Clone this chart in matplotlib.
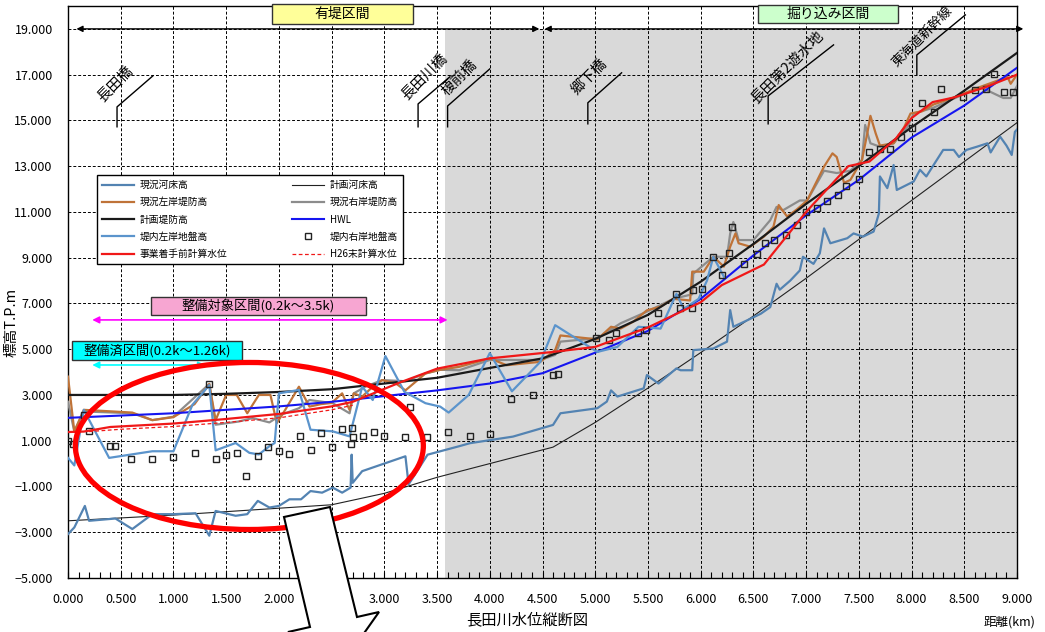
import matplotlib
matplotlib.use("Agg")
import matplotlib.pyplot as plt
from matplotlib.patches import Rectangle, Ellipse, Polygon
from matplotlib.ticker import FuncFormatter, MultipleLocator

plt.rcParams['font.family'] = ['Noto Sans CJK JP', 'DejaVu Sans']

# ---- data (km, T.P.m) ----
riverbed_x = [0, 0.06, 0.16, 0.2, 0.45, 0.61, 0.8, 1.0, 1.21, 1.34, 1.4, 1.59, 1.7, 1.8, 1.91, 2.0,
              2.1, 2.21, 2.3, 2.41, 2.51, 2.6, 2.68, 2.69, 2.7, 2.79, 3.2, 3.23, 3.41, 3.71, 3.81,
              4.22, 4.6, 4.67, 5.02, 5.11, 5.15, 5.21, 5.46, 5.49, 5.6, 5.77, 5.81, 5.92, 5.93, 6.12,
              6.25, 6.28, 6.31, 6.38, 6.44, 6.57, 6.66, 6.72, 6.75, 6.85, 6.94, 6.97, 7.07, 7.13,
              7.17, 7.23, 7.39, 7.45, 7.54, 7.64, 7.69, 7.7, 7.77, 7.83, 7.86, 8.02, 8.08, 8.14,
              8.3, 8.4, 8.45, 8.52, 8.62, 8.72, 8.75, 8.84, 8.9, 8.95, 8.98, 9.0]
riverbed_y = [-3.08, -2.79, -1.85, -2.5, -2.4, -2.86, -2.21, -2.21, -2.17, -3.15, -2.07, -2.28, -2.21,
              -1.63, -1.92, -1.85, -1.56, -1.56, -1.2, -1.27, -1.05, -1.27, -1.05, 0.39, -0.84, -0.33,
              0.32, -0.91, 0.39, 0.76, 0.89, 1.18, 1.69, 2.2, 2.42, 2.71, 3.2, 2.93, 3.29, 3.87, 3.5,
              4.16, 4.08, 4.08, 4.96, 5.03, 5.33, 6.71, 5.98, 6.13, 6.26, 6.55, 6.84, 7.86, 7.6, 8.0,
              8.44, 9.04, 8.73, 9.19, 10.28, 9.63, 9.85, 10.06, 9.92, 10.14, 10.93, 12.55, 12.04,
              13.05, 11.96, 12.33, 12.84, 12.55, 13.71, 13.71, 13.4, 13.71, 13.85, 14.0, 13.6, 14.29,
              13.9, 13.49, 14.5, 14.6]

plan_bed_x = [0, 1.0, 2.0, 2.5, 3.0, 3.5, 4.0, 4.6, 5.0, 5.5, 6.0, 6.5, 7.0, 7.5, 8.0, 8.5, 9.0]
plan_bed_y = [-2.5, -2.25, -1.95, -1.8, -1.3, -0.6, 0.0, 0.72, 1.8, 3.3, 4.85, 6.45, 8.1, 9.8,
              11.5, 13.2, 14.9]

left_levee_x = [0, 0.06, 0.15, 0.61, 0.8, 1.0, 1.2, 1.34, 1.4, 1.5, 1.6, 1.7, 1.81, 1.92, 1.98, 2.06,
                2.19, 2.29, 2.4, 2.5, 2.6, 2.67, 2.71, 2.79, 2.89, 2.98, 3.11, 3.2, 3.39, 3.53, 3.71,
                4.0, 4.16, 4.48, 4.62, 4.67, 5.02, 5.15, 5.24, 5.36, 5.49, 5.62, 5.74, 5.9, 5.92,
                6.03, 6.12, 6.22, 6.28, 6.33, 6.36, 6.47, 6.6, 6.69, 6.74, 6.77, 6.82, 6.91, 7.01,
                7.17, 7.25, 7.29, 7.36, 7.42, 7.53, 7.58, 7.61, 7.66, 7.7, 7.83, 7.93, 7.99, 8.1,
                8.21, 8.4, 8.65, 8.91, 8.94, 9.0]
left_levee_y = [3.8, 1.41, 2.35, 2.23, 1.9, 2.03, 2.6, 3.48, 1.9, 3.0, 3.0, 2.2, 3.0, 3.0, 1.77, 2.35,
                3.36, 2.49, 2.6, 2.65, 3.07, 2.35, 3.07, 2.93, 3.36, 3.65, 3.5, 3.2, 3.94, 4.1, 4.23,
                4.6, 4.3, 4.45, 4.96, 5.6, 5.43, 5.98, 5.9, 6.2, 6.7, 6.86, 7.2, 7.13, 8.39, 8.39,
                9.04, 8.61, 9.48, 10.06, 9.63, 9.48, 9.92, 10.35, 11.3, 11.1, 10.8, 11.1, 11.5, 12.98,
                13.56, 13.4, 12.27, 12.4, 13.27, 14.43, 15.2, 14.43, 13.9, 14.0, 14.7, 15.3, 15.4,
                15.7, 16.0, 16.46, 16.9, 16.6, 17.0]

right_levee_x = [0, 0.06, 0.15, 0.61, 0.8, 1.0, 1.34, 1.4, 1.62, 1.75, 1.91, 2.02, 2.19, 2.29, 2.51,
                 2.67, 2.71, 2.82, 2.98, 3.2, 3.39, 3.53, 3.71, 4.0, 4.48, 4.62, 4.67, 5.02, 5.24,
                 5.49, 5.74, 5.92, 5.93, 6.12, 6.25, 6.28, 6.31, 6.36, 6.5, 6.66, 6.72, 6.78, 6.94,
                 7.01, 7.17, 7.29, 7.42, 7.53, 7.56, 7.61, 7.7, 7.83, 7.96, 8.02, 8.21, 8.4, 8.65,
                 8.87, 8.94, 9.0]
right_levee_y = [2.7, 1.4, 2.28, 2.2, 1.9, 2.05, 3.48, 1.7, 1.84, 1.99, 1.8, 2.13, 2.42, 2.78, 2.64,
                 2.2, 3.07, 3.36, 3.65, 3.6, 3.94, 4.1, 4.08, 4.53, 4.53, 4.75, 5.33, 5.48, 6.13,
                 6.64, 7.2, 7.4, 8.3, 9.04, 9.04, 10.06, 10.56, 9.77, 9.77, 10.64, 11.22, 11.07, 11.5,
                 11.5, 12.8, 12.7, 12.8, 13.27, 14.8, 14.0, 13.85, 14.0, 14.7, 15.3, 15.56, 15.95,
                 16.46, 15.98, 15.98, 16.5]

plan_levee_x = [0, 0.5, 1.0, 1.5, 2.0, 2.5, 3.0, 3.5, 4.0, 4.5, 5.0, 5.5, 6.0, 6.5, 7.0, 7.5, 8.0,
                8.5, 9.0]
plan_levee_y = [3.0, 3.0, 3.0, 3.05, 3.13, 3.25, 3.5, 3.75, 4.18, 4.6, 5.45, 6.5, 7.95, 9.6, 11.35,
                13.0, 14.7, 16.3, 17.95]

hwl_x = [0, 0.5, 1.0, 1.5, 2.0, 2.5, 3.0, 3.5, 4.0, 4.5, 5.0, 5.5, 6.0, 6.5, 7.0, 7.5, 8.0, 8.5, 9.0]
hwl_y = [2.0, 2.1, 2.2, 2.35, 2.5, 2.7, 2.95, 3.2, 3.5, 3.95, 4.85, 5.8, 7.2, 9.1, 10.85, 12.4,
         14.25, 15.65, 17.3]

left_ground_x = [0, 0.06, 0.15, 0.39, 0.8, 1.0, 1.18, 1.34, 1.4, 1.59, 1.72, 1.81, 1.91, 1.96, 2.0,
                 2.19, 2.3, 2.51, 2.67, 2.79, 2.89, 3.01, 3.19, 3.39, 3.53, 3.61, 3.8, 4.0, 4.21,
                 4.48, 4.62, 5.02, 5.21, 5.41, 5.62, 5.77, 5.84, 5.98, 6.06, 6.12, 6.22]
left_ground_y = [0.25, -0.08, 2.35, 0.25, 0.54, 0.54, 2.57, 3.43, 0.58, 0.9, 0.47, 0.4, 0.76, 0.9,
                 3.07, 3.22, 1.48, 1.41, 1.19, 3.36, 2.78, 4.7, 3.14, 2.64, 2.49, 2.23, 3.0, 4.83,
                 3.16, 4.45, 6.05, 4.88, 5.1, 5.98, 5.9, 7.42, 6.76, 7.2, 8.0, 9.04, 8.17]

right_ground_x = [0, 0.05, 0.15, 0.2, 0.4, 0.45, 0.6, 0.8, 1.0, 1.2, 1.34, 1.4, 1.5, 1.6, 1.69, 1.8,
                  1.9, 2.0, 2.1, 2.2, 2.3, 2.4, 2.5, 2.6, 2.68, 2.69, 2.7, 2.8, 2.9, 3.0, 3.2, 3.24,
                  3.4, 3.6, 3.81, 4.0, 4.2, 4.41, 4.6, 4.65, 5.01, 5.13, 5.2, 5.41, 5.48, 5.6, 5.77,
                  5.8, 5.92, 5.93, 6.01, 6.12, 6.2, 6.27, 6.3, 6.41, 6.53, 6.61, 6.7, 6.81, 6.91, 7.0,
                  7.1, 7.2, 7.3, 7.38, 7.5, 7.6, 7.7, 7.8, 7.9, 8.0, 8.1, 8.21, 8.28, 8.49, 8.6, 8.71,
                  8.78, 8.88, 8.96]
right_ground_y = [1.0, 0.87, 2.13, 1.41, 0.79, 0.79, 0.18, 0.18, 0.28, 0.45, 3.48, 0.21, 0.37, 0.47,
                  -0.55, 0.35, 0.71, 0.55, 0.44, 1.22, 0.58, 1.33, 0.73, 1.51, 0.86, 1.55, 1.16,
                  1.22, 1.36, 1.22, 1.16, 2.46, 1.15, 1.38, 1.22, 1.31, 2.82, 3.01, 3.87, 3.93, 5.5,
                  5.4, 5.69, 5.69, 5.84, 6.6, 7.4, 6.8, 6.8, 7.6, 7.65, 9.05, 8.25, 9.2, 10.32, 8.71,
                  9.15, 9.65, 9.78, 10.0, 10.43, 11.0, 11.15, 11.47, 11.72, 12.13, 12.42, 13.63,
                  13.73, 13.76, 14.29, 14.65, 15.74, 15.36, 16.36, 16.04, 16.33, 16.36, 17.03, 16.22,
                  16.22]

calc_before_x = [0, 0.15, 0.4, 1.0, 1.5, 2.0, 2.5, 2.7, 3.15, 3.5, 4.0, 4.6, 5.0, 5.5, 6.0, 6.2, 6.6,
                 7.0, 7.4, 7.6, 7.85, 8.0, 8.2, 8.4, 8.7, 9.0]
calc_before_y = [1.38, 1.4, 1.6, 1.75, 1.95, 2.17, 2.5, 2.7, 3.55, 4.15, 4.6, 4.88, 5.1, 5.95, 7.05,
                 7.8, 8.7, 11.0, 13.0, 13.2, 14.2, 15.1, 15.8, 16.0, 16.45, 17.0]

calc_h26_x = [0.2, 0.5, 1.0, 1.5, 2.0, 2.5, 2.7]
calc_h26_y = [1.4, 1.5, 1.62, 1.8, 2.0, 2.35, 2.55]

bridge_names = ["長田橋", "長田川橋", "榎前橋", "郷下橋", "長田第2遊水地", "東海道新幹線"]
bridge_km = [0.465, 3.32, 3.60, 4.93, 6.64, 8.05]

# ---- figure ----
fig = plt.figure(figsize=(10.45, 6.32), dpi=100)
ax = fig.add_axes([68 / 1045, 54 / 632, 949 / 1045, 572 / 632])
ax.set_xlim(0, 9)
ax.set_ylim(-5, 20)

ax.add_patch(Rectangle((3.58, -5), 9 - 3.58, 24, facecolor="#D9D9D9", edgecolor="none", zorder=0.5))

ax.xaxis.set_major_locator(MultipleLocator(0.5))
ax.xaxis.set_minor_locator(MultipleLocator(0.1))
ax.set_yticks(range(-5, 20, 2))
fmt = FuncFormatter(lambda v, p: f"{v:.3f}".replace("-", "\u2212"))
ax.xaxis.set_major_formatter(fmt)
ax.yaxis.set_major_formatter(fmt)
ax.tick_params(axis="x", which="both", direction="in", length=4, width=0.8, pad=11, labelsize=9)
ax.tick_params(axis="y", length=0, pad=11, labelsize=9)
ax.grid(True, which="major", color="black", linestyle=(0, (3, 2)), linewidth=0.7, zorder=1)
for s in ax.spines.values():
    s.set_linewidth(1.0)

# data lines
ax.plot(plan_bed_x, plan_bed_y, color="#222222", lw=0.8, zorder=2, label="計画河床高")
ax.plot(riverbed_x, riverbed_y, color="#5383B2", lw=1.6, zorder=3, label="現況河床高")
ax.plot(right_levee_x, right_levee_y, color="#8C8C8C", lw=1.6, zorder=3, label="現況右岸堤防高")
ax.plot(left_levee_x, left_levee_y, color="#BF7338", lw=1.6, zorder=3, label="現況左岸堤防高")
ax.plot(plan_levee_x, plan_levee_y, color="#1A1A1A", lw=1.6, zorder=3, label="計画堤防高")
ax.plot(hwl_x, hwl_y, color="#1515F0", lw=1.5, zorder=3, label="HWL")
ax.plot(left_ground_x, left_ground_y, color="#5B94CC", lw=1.6, zorder=3, label="堤内左岸地盤高")
ax.plot(right_ground_x, right_ground_y, ls="none", marker="s", ms=5, mfc="none", mec="#222222",
        mew=1.0, zorder=4, label="堤内右岸地盤高")
ax.plot(calc_before_x, calc_before_y, color="#F01818", lw=1.6, zorder=4, label="事業着手前計算水位")
ax.plot(calc_h26_x, calc_h26_y, color="#F01818", lw=0.9, ls=(0, (3, 2)), zorder=4,
        label="H26末計算水位")

# legend (row-wise order)
order = ["現況河床高", "現況左岸堤防高", "計画堤防高", "堤内左岸地盤高", "事業着手前計算水位",
         "計画河床高", "現況右岸堤防高", "HWL", "堤内右岸地盤高", "H26末計算水位"]
h, l = ax.get_legend_handles_labels()
lookup = dict(zip(l, h))
leg = ax.legend([lookup[k] for k in order], order, ncol=2, loc="lower left",
                bbox_to_anchor=(0.0306, 0.549, 0.3225, 0.143), mode="expand", fontsize=7,
                frameon=True, fancybox=False, edgecolor="black", framealpha=1,
                handlelength=3.3, handletextpad=0.6, labelspacing=0.75, borderaxespad=0,
                borderpad=0.5, columnspacing=1.0)
leg.get_frame().set_linewidth(1.0)
leg.set_zorder(7)

# bridges
bridge_geom = [
    (14.72, 15.59, 0.806, 16.95, 0.455, 16.55, 10.5),
    (14.72, 15.72, 3.62, 16.90, 3.39, 16.86, 10.5),
    (14.72, 15.63, 4.00, 17.25, 3.71, 16.86, 10.5),
    (14.85, 15.77, 5.25, 17.08, 4.95, 16.90, 10.5),
    (14.85, 16.07, 7.26, 18.30, 6.82, 17.34, 10.5),
    (16.99, 17.86, 8.51, 19.61, 8.10, 18.68, 9.5),
]
for name, km, (y0, y1, xe, ye, tx, ty, fs) in zip(bridge_names, bridge_km, bridge_geom):
    ax.plot([km, km, xe], [y0, y1, ye], color="black", lw=1.0, zorder=5, clip_on=False)
    ax.text(tx, ty, name, rotation=45, ha="center", va="center", fontsize=fs, zorder=5,
            clip_on=False)

# section arrows at top
arw = dict(arrowstyle="<|-|>", color="black", lw=1.0, mutation_scale=9, shrinkA=0, shrinkB=0)
ax.annotate("", xy=(0.08, 19), xytext=(4.47, 19), arrowprops=arw, annotation_clip=False)
ax.annotate("", xy=(4.52, 19), xytext=(9.06, 19), arrowprops=arw, annotation_clip=False)

def label_box(x0, x1, y0, y1, text, fc, fs=10):
    ax.add_patch(Rectangle((x0, y0), x1 - x0, y1 - y0, facecolor=fc, edgecolor="#333333",
                           lw=1.0, zorder=6, clip_on=False))
    ax.text((x0 + x1) / 2, (y0 + y1) / 2, text, ha="center", va="center", fontsize=fs,
            zorder=7, clip_on=False)

label_box(1.935, 3.273, 19.22, 20.09, "有堤区間", "#FFFF99")
label_box(6.546, 7.875, 19.26, 20.05, "掘り込み区間", "#CCFFCC")
label_box(0.787, 2.827, 6.50, 7.28, "整備対象区間(0.2k〜3.5k)", "#F7A6D2", 9.5)
label_box(0.038, 1.651, 4.53, 5.36, "整備済区間(0.2k〜1.26k)", "#00FFFF", 9.5)

ax.annotate("", xy=(0.23, 6.28), xytext=(3.6, 6.28),
            arrowprops=dict(arrowstyle="<|-|>", color="#FF00FF", lw=1.2, mutation_scale=10,
                            shrinkA=0, shrinkB=0), annotation_clip=False)
ax.annotate("", xy=(0.23, 4.31), xytext=(1.3, 4.31),
            arrowprops=dict(arrowstyle="<|-|>", color="#00FFFF", lw=1.2, mutation_scale=10,
                            shrinkA=0, shrinkB=0), annotation_clip=False)

# red ellipse
ax.add_patch(Ellipse((1.72, 0.77), 3.30, 7.3, fill=False, edgecolor="#FF0000", lw=3.8,
                     zorder=8, clip_on=False))

# big pointer arrow at the bottom
pts = [(284, 517), (330, 507), (357, 617), (379, 612), (343, 663), (288, 632), (310, 627)]
fig.add_artist(Polygon([(px / 1045, 1 - py / 632) for px, py in pts], closed=True,
                       facecolor="white", edgecolor="black", lw=1.5,
                       transform=fig.transFigure, zorder=10))

fig.text(12 / 1045, 1 - 322 / 632, "標高T.P.m", rotation=90, ha="center", va="center", fontsize=10.5)
fig.text(527 / 1045, 1 - 620 / 632, "長田川水位縦断図", ha="center", va="center", fontsize=11)
fig.text(1010 / 1045, 1 - 622 / 632, "距離(km)", ha="center", va="center", fontsize=9)

fig.savefig("out.png", dpi=100)
